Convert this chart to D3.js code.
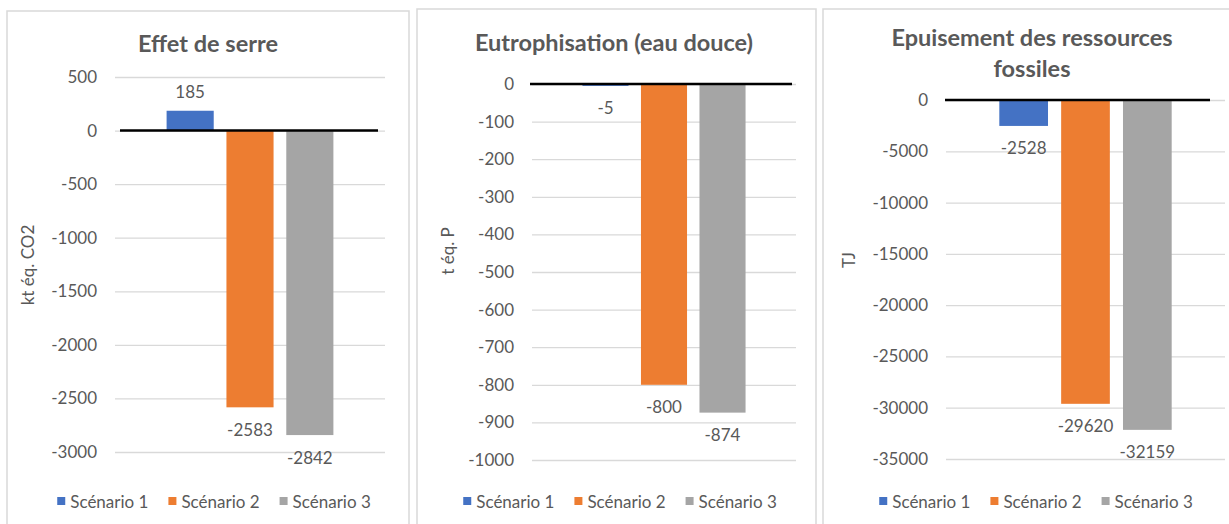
<!DOCTYPE html>
<meta charset="utf-8">
<body>
<script src="https://cdn.jsdelivr.net/npm/d3@7"></script>
<style>
    html, body {
        margin: 0;
        background: #fff;
    }
    text {
        font-family: Lato, "Open Sans", sans-serif;
        fill: #595959;
    }
</style>
<script>
// values
var series = ["Scénario 1", "Scénario 2", "Scénario 3"],
    colors = ["#4472C4", "#ED7D31", "#A5A5A5"];

var serreValues = [185, -2583, -2842],
    eutroValues = [-5, -800, -874],
    fossilValues = [-2528, -29620, -32159];

var serreTicks = [500, 0, -500, -1000, -1500, -2000, -2500, -3000],
    eutroTicks = [0, -100, -200, -300, -400, -500, -600, -700, -800, -900, -1000],
    fossilTicks = [0, -5000, -10000, -15000, -20000, -25000, -30000, -35000];

var titles = [["Effet de serre"], ["Eutrophisation (eau douce)"], ["Epuisement des ressources", "fossiles"]],
    units = ["kt éq. CO2", "t éq. P", "TJ"];

// panel layout (pixels)
var panels = [
    {values: serreValues, ticks: serreTicks, box: [7, 11, 402], plot: [115, 385, 77, 452],
     title: [208, 52], unit: [27, 265], zero: [120, 378], legend: 214},
    {values: eutroValues, ticks: eutroTicks, box: [417, 9, 399], plot: [532, 796, 84, 460],
     title: [614, 51], unit: [447, 251], zero: [530, 792], legend: 620},
    {values: fossilValues, ticks: fossilTicks, box: [823, 9, 430], plot: [946, 1225, 100, 459],
     title: [1032, 46], unit: [848, 260], zero: [945, 1210], legend: 1036}
];

var svg = d3.select("body").append("svg")
    .attr("width", 1229)
    .attr("height", 524);

panels.forEach(function(p, i) {
    var g = svg.append("g");

    g.append("rect")
        .attr("x", p.box[0])
        .attr("y", p.box[1])
        .attr("width", p.box[2])
        .attr("height", 600)
        .attr("fill", "#fff")
        .attr("stroke", "#D9D9D9")
        .attr("stroke-width", 1.5);

    var y = d3.scaleLinear()
        .domain([d3.min(p.ticks), d3.max(p.ticks)])
        .range([p.plot[3], p.plot[2]]);

    var plotW = p.plot[1] - p.plot[0],
        w = plotW / 5.73,
        step = w * 1.27;
    var x = d3.scaleBand()
        .domain(series)
        .range([p.plot[0], p.plot[1]])
        .paddingInner(1 - w / step)
        .paddingOuter(1.095 / 1.27);

    var axis = g.append("g")
        .attr("transform", "translate(" + p.plot[0] + ",0)")
        .call(d3.axisLeft(y)
            .tickValues(p.ticks)
            .tickSizeInner(-plotW)
            .tickSizeOuter(0)
            .tickPadding(18)
            .tickFormat(function(d) { return String(d); }));
    axis.select(".domain").remove();
    axis.selectAll(".tick line")
        .attr("stroke", "#D9D9D9")
        .attr("stroke-width", 1.3);
    axis.selectAll(".tick text")
        .attr("font-size", 17)
        .style("font-family", "Lato, sans-serif")
        .attr("fill", "#595959");

    g.selectAll(".bar")
        .data(p.values)
        .enter().append("rect")
        .attr("x", function(d, j) { return x(series[j]); })
        .attr("width", x.bandwidth())
        .attr("y", function(d) { return y(Math.max(d, 0)); })
        .attr("height", function(d) { return Math.abs(y(d) - y(0)); })
        .attr("fill", function(d, j) { return colors[j]; });

    g.append("line")
        .attr("x1", p.zero[0])
        .attr("x2", p.zero[1])
        .attr("y1", y(0))
        .attr("y2", y(0))
        .attr("stroke", "#000")
        .attr("stroke-width", 2.5);

    g.selectAll(".lbl")
        .data(p.values)
        .enter().append("text")
        .attr("x", function(d, j) { return x(series[j]) + x.bandwidth() / 2; })
        .attr("y", function(d) { return d >= 0 ? y(d) - 19 : y(d) + 22; })
        .attr("text-anchor", "middle")
        .attr("dominant-baseline", "central")
        .attr("font-size", 17)
        .text(function(d) { return d; });

    g.selectAll(".ttl")
        .data(titles[i])
        .enter().append("text")
        .attr("x", p.title[0])
        .attr("y", function(d, k) { return p.title[1] + k * 31; })
        .attr("text-anchor", "middle")
        .attr("font-size", 23.5)
        .attr("font-weight", "bold")
        .text(function(d) { return d; });

    g.append("text")
        .attr("transform", "translate(" + p.unit[0] + "," + p.unit[1] + ") rotate(-90)")
        .attr("text-anchor", "middle")
        .attr("dominant-baseline", "central")
        .attr("font-size", 17)
        .text(units[i]);

    // legend, centred under the panel
    var leg = g.append("g").attr("transform", "translate(0,501)");
    var items = leg.selectAll("g")
        .data(series)
        .enter().append("g");
    items.append("rect")
        .attr("y", -4)
        .attr("width", 8)
        .attr("height", 8)
        .attr("fill", function(d, j) { return colors[j]; });
    items.append("text")
        .attr("x", 13)
        .attr("dominant-baseline", "central")
        .attr("font-size", 17)
        .text(function(d) { return d; });
    var pos = 0, offs = [];
    items.each(function() {
        offs.push(pos);
        pos += 13 + this.querySelector("text").getComputedTextLength() + 20;
    });
    var total = pos - 20, start = p.legend - total / 2;
    items.attr("transform", function(d, j) { return "translate(" + (start + offs[j]) + ",0)"; });
});
</script>
